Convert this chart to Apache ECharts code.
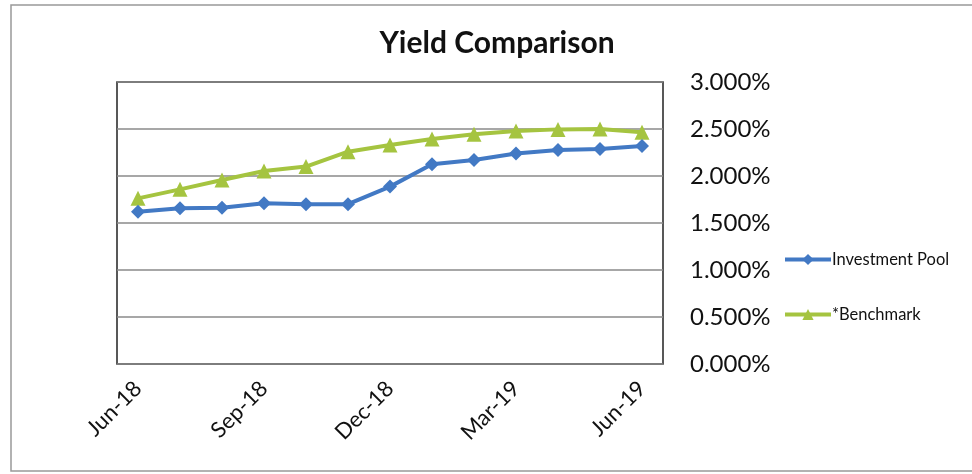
<!DOCTYPE html>
<html><head><meta charset="utf-8">
<script src="https://cdn.jsdelivr.net/npm/echarts@6/dist/echarts.min.js"></script>
<style>html,body{margin:0;padding:0;background:#fff}#c{width:972px;height:474px}</style>
</head><body><div id="c"></div>
<script>
var categories = ['Jun-18','Jul-18','Aug-18','Sep-18','Oct-18','Nov-18','Dec-18','Jan-19','Feb-19','Mar-19','Apr-19','May-19','Jun-19'];
var investmentPool = [1.62,1.656,1.663,1.71,1.70,1.70,1.887,2.124,2.17,2.24,2.277,2.287,2.319];
var benchmark = [1.762,1.858,1.957,2.053,2.10,2.259,2.33,2.394,2.443,2.479,2.496,2.50,2.465];
var yTicks = [0,0.5,1,1.5,2,2.5,3];

var FONT = 'Lato';
var chart = echarts.init(document.getElementById('c'));
chart.setOption({
  animation:false,
  title:{text:'Yield Comparison',left:492,top:23,textAlign:'center',
    textStyle:{fontFamily:FONT,fontSize:30,fontWeight:'bold',color:'#111'}},
  graphic:[{type:'rect',shape:{x:11,y:5,width:970,height:466},
    style:{fill:'none',stroke:'#999',lineWidth:1.5},silent:true}],
  grid:{left:117,right:309,top:82,bottom:110,show:true,borderColor:'#222',borderWidth:1.5,backgroundColor:'transparent'},
  legend:{orient:'vertical',left:778,top:246,itemGap:38,itemWidth:46,itemHeight:14,
    lineStyle:{width:4},
    textStyle:{fontFamily:FONT,fontSize:16.5,color:'#111',padding:[0,0,0,-4]},
    data:['Investment Pool','*Benchmark']},
  xAxis:{type:'category',data:categories,boundaryGap:true,
    axisLine:{show:false},axisTick:{show:false},
    axisLabel:{interval:2,rotate:45,fontFamily:FONT,fontSize:22,color:'#111',margin:21}},
  yAxis:{type:'value',position:'right',min:0,max:3,interval:0.5,
    axisLine:{show:false},axisTick:{show:false},
    splitLine:{lineStyle:{color:'#8a8a8a',width:1.5}},
    axisLabel:{fontFamily:FONT,fontSize:24,color:'#111',margin:27,
      formatter:function(v){return v.toFixed(3)+'%';}}},
  series:[
    {name:'Investment Pool',type:'line',data:investmentPool,symbol:'diamond',symbolSize:14,
      itemStyle:{color:'#4279c4'},lineStyle:{width:4,color:'#4279c4'},z:3},
    {name:'*Benchmark',type:'line',data:benchmark,symbol:'triangle',symbolSize:15,
      itemStyle:{color:'#a5c440'},lineStyle:{width:4,color:'#a5c440'},z:2}
  ]
});
</script></body></html>
